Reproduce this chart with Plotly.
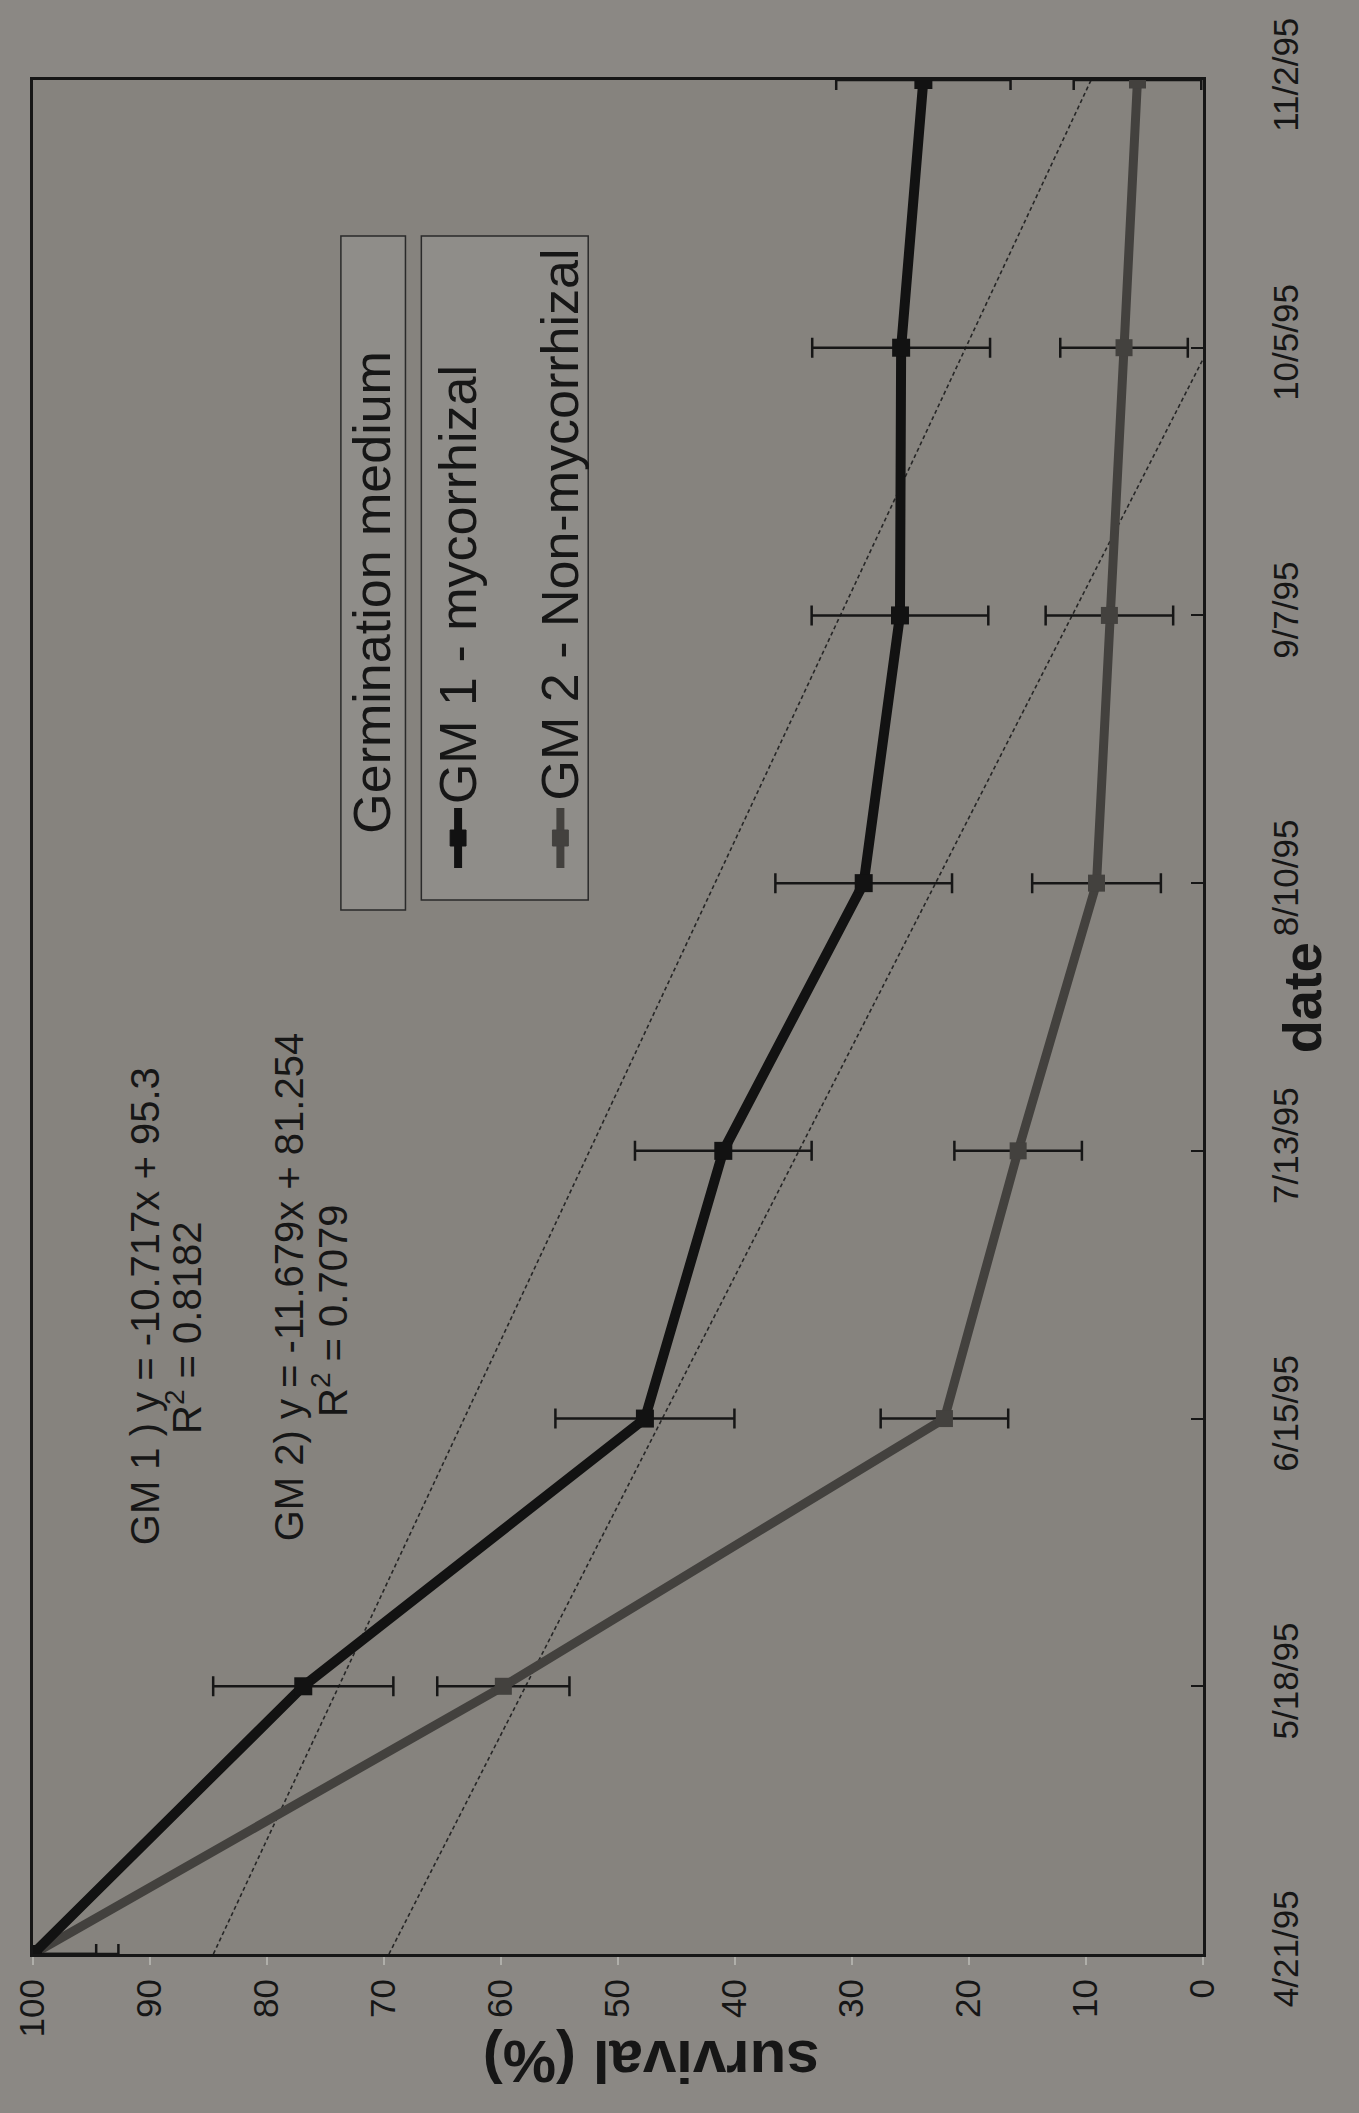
import plotly.graph_objects as go

# --- data -------------------------------------------------------------
dates = ["4/21/95", "5/18/95", "6/15/95", "7/13/95", "8/10/95", "9/7/95", "10/5/95", "11/2/95"]
date_idx = [1, 2, 3, 4, 5, 6, 7, 8]

gm1_survival = [100, 76.9, 47.7, 41.0, 29.0, 25.9, 25.8, 23.9]
gm1_err = [7.3, 7.7, 7.65, 7.55, 7.55, 7.55, 7.6, 7.45]

gm2_survival = [100, 59.8, 22.1, 15.8, 9.1, 8.0, 6.75, 5.6]
gm2_err = [5.4, 5.65, 5.45, 5.45, 5.5, 5.45, 5.45, 5.45]

gm1_slope, gm1_icpt, gm1_r2 = -10.717, 95.3, 0.8182
gm2_slope, gm2_icpt, gm2_r2 = -11.679, 81.254, 0.7079

survival_ticks = [0, 10, 20, 30, 40, 50, 60, 70, 80, 90, 100]

# --- page geometry ----------------------------------------------------
W, H = 1359, 2113
L, R, T, B = 25, 156, 80, 159

def pp(x, y):
    """pixel position -> paper coordinates"""
    return (x - L) / (W - L - R), (H - B - y) / (H - T - B)

NARROW = "Liberation Sans Narrow, Arial Narrow, Liberation Sans, Arial, sans-serif"
REG = "Liberation Sans, Arial, sans-serif"

PAPER = "#8b8884"
PLOT = "#86837e"
INK = "#161616"
GM1_COL = "#121212"
GM2_COL = "#43413e"

fig = go.Figure()

# linear trendlines, evaluated from the fitted equations
for slope, icpt in ((gm1_slope, gm1_icpt), (gm2_slope, gm2_icpt)):
    fig.add_trace(go.Scatter(
        x=[slope * i + icpt for i in (date_idx[0], date_idx[-1])],
        y=[date_idx[0], date_idx[-1]], mode="lines",
        line=dict(color="#262626", width=1.6, dash="4px,3px"), showlegend=False))

# survival series with error bars
fig.add_trace(go.Scatter(
    x=gm2_survival, y=date_idx, mode="lines+markers", name="GM 2 - Non-mycorrhizal",
    line=dict(color=GM2_COL, width=9),
    marker=dict(symbol="square", size=17, color=GM2_COL),
    error_x=dict(type="data", array=gm2_err, color=INK, thickness=2.5, width=10),
    showlegend=False))
fig.add_trace(go.Scatter(
    x=gm1_survival, y=date_idx, mode="lines+markers", name="GM 1 - mycorrhizal",
    line=dict(color=GM1_COL, width=10),
    marker=dict(symbol="square", size=18, color=GM1_COL),
    error_x=dict(type="data", array=gm1_err, color=INK, thickness=2.5, width=10),
    showlegend=False))

annotations = []

def label(text, x, y, size, family=NARROW, angle=-90, bold=False):
    px, py = pp(x, y)
    if bold:
        text = f"<b>{text}</b>"
    annotations.append(dict(
        text=text, x=px, y=py, xref="paper", yref="paper",
        xanchor="center", yanchor="middle", showarrow=False,
        textangle=angle, font=dict(family=family, size=size, color=INK)))

# trendline equations
label(f"GM 1 ) y = {gm1_slope}x + {gm1_icpt}", 138, 1306, 40)
label(f"R<sup>2</sup> = {gm1_r2}", 177, 1328, 40)
label(f"GM 2) y = {gm2_slope}x + {gm2_icpt}", 283, 1287, 40)
label(f"R<sup>2</sup> = {gm2_r2}", 324, 1311, 40)

# axis titles
label("survival (%)", 647, 2062, 60, family=REG, angle=180, bold=True)
label("date", 1303, 998, 54, family=REG, angle=-90, bold=True)

# legend drawn rotated
shapes = []
def rect(x0, y0, x1, y1, fill):
    a0, b0 = pp(x0, y1)
    a1, b1 = pp(x1, y0)
    shapes.append(dict(type="rect", xref="paper", yref="paper", x0=a0, y0=b0, x1=a1, y1=b1,
                       line=dict(color="#2a2a2a", width=1.5), fillcolor=fill))

rect(335, 236, 400, 910, "#8f8d89")
rect(416, 236, 584, 900, "#8f8d89")
label("Germination medium", 366, 592, 52, family=REG)

entries = [("GM 1 - mycorrhizal", 453, 585, GM1_COL),
           ("GM 2 - Non-mycorrhizal", 556, 524, GM2_COL)]
for text, ex, ty, col in entries:
    label(text, ex, ty, 52, family=REG)
    a0, b0 = pp(ex, 868)
    a1, b1 = pp(ex, 808)
    shapes.append(dict(type="line", xref="paper", yref="paper", x0=a0, y0=b0, x1=a1, y1=b1,
                       line=dict(color=col, width=8)))
    m0, n0 = pp(ex - 8, 846)
    m1, n1 = pp(ex + 8, 830)
    shapes.append(dict(type="rect", xref="paper", yref="paper", x0=m0, y0=n0, x1=m1, y1=n1,
                       line=dict(color=col, width=1), fillcolor=col))

fig.update_layout(
    width=W, height=H,
    margin=dict(l=L, r=R, t=T, b=B, pad=0),
    paper_bgcolor=PAPER, plot_bgcolor=PLOT,
    showlegend=False,
    annotations=annotations, shapes=shapes,
    xaxis=dict(
        range=[100, 0], tickvals=survival_ticks, ticktext=[str(v) for v in survival_ticks],
        tickangle=-90, tickfont=dict(family=NARROW, size=35, color=INK),
        ticks="outside", ticklen=8, tickwidth=2, tickcolor="rgba(205,205,200,0.55)",
        ticklabelstandoff=0,
        showline=True, linecolor=INK, linewidth=3, mirror=True,
        showgrid=False, zeroline=False),
    yaxis=dict(
        range=[1, 8], side="right", tickvals=date_idx, ticktext=dates,
        tickangle=-90, tickfont=dict(family=NARROW, size=35, color=INK),
        ticks="inside", ticklen=12, tickwidth=2, tickcolor=INK,
        ticklabelstandoff=50,
        showline=True, linecolor=INK, linewidth=3, mirror=True,
        showgrid=False, zeroline=False),
)

fig.write_html("out.html")
